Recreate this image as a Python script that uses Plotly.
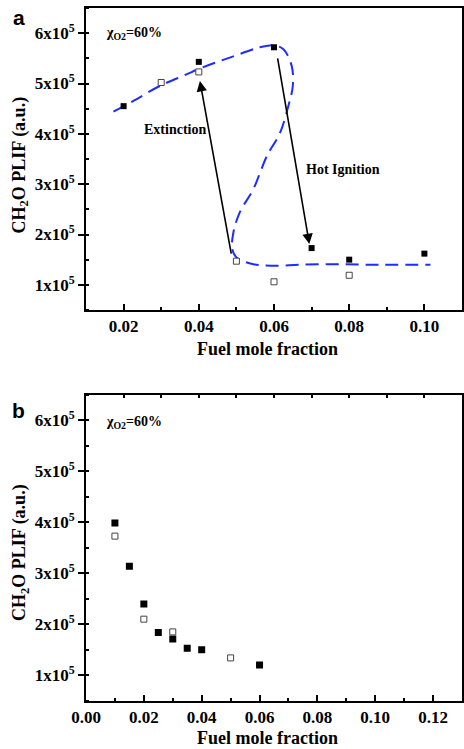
import plotly.graph_objects as go

# ---------------- data: panel a ----------------
a_filled_x = [0.02, 0.04, 0.06, 0.07, 0.08, 0.10]
a_filled_y = [4.55e5, 5.43e5, 5.72e5, 1.73e5, 1.50e5, 1.62e5]
a_open_x = [0.03, 0.04, 0.05, 0.06, 0.08]
a_open_y = [5.02e5, 5.23e5, 1.47e5, 1.06e5, 1.19e5]
a_curve_x = [0.0173, 0.0225, 0.0296, 0.0367, 0.0403, 0.0492, 0.0563, 0.0598, 0.0625,
             0.0647, 0.0650, 0.0638, 0.0616, 0.0581, 0.0563, 0.0545, 0.0509, 0.0492,
             0.0489, 0.0501, 0.0545, 0.0598, 0.0669, 0.0758, 0.0847, 0.1016]
a_curve_y = [4.44e5, 4.65e5, 4.95e5, 5.18e5, 5.30e5, 5.54e5, 5.72e5, 5.76e5, 5.68e5,
             5.35e5, 4.95e5, 4.55e5, 4.02e5, 3.56e5, 3.23e5, 2.90e5, 2.44e5, 2.04e5,
             1.71e5, 1.54e5, 1.41e5, 1.38e5, 1.40e5, 1.41e5, 1.40e5, 1.40e5]
# arrows: (tail_x, tail_y, tip_x, tip_y)
arrow_extinction = [0.0487, 1.59e5, 0.0403, 5.05e5]
arrow_ignition = [0.0609, 5.53e5, 0.0694, 1.81e5]

# ---------------- data: panel b ----------------
b_filled_x = [0.010, 0.015, 0.020, 0.025, 0.030, 0.035, 0.040, 0.060]
b_filled_y = [3.99e5, 3.14e5, 2.40e5, 1.84e5, 1.71e5, 1.53e5, 1.50e5, 1.20e5]
b_open_x = [0.010, 0.020, 0.030, 0.050]
b_open_y = [3.73e5, 2.10e5, 1.85e5, 1.34e5]

y_tickvals = [1e5, 2e5, 3e5, 4e5, 5e5, 6e5]
y_ticktext = ["%dx10<sup>5</sup>" % (v / 1e5) for v in y_tickvals]

W, H = 464, 749
def px_x(p):
    return p / W
def px_y(p):
    return 1 - p / H

SERIF = "Liberation Serif"
BLUE = "#1f2bff"

fig = go.Figure()

# panel a traces
fig.add_trace(go.Scatter(x=a_curve_x, y=a_curve_y, mode="lines",
                         line=dict(color=BLUE, width=2, dash="13px,7px", shape="spline", smoothing=1.0),
                         xaxis="x", yaxis="y", showlegend=False, hoverinfo="skip"))
fig.add_trace(go.Scatter(x=a_filled_x, y=a_filled_y, mode="markers",
                         marker=dict(symbol="square", size=6, color="black"),
                         xaxis="x", yaxis="y", showlegend=False))
fig.add_trace(go.Scatter(x=a_open_x, y=a_open_y, mode="markers",
                         marker=dict(symbol="square", size=6, color="white",
                                     line=dict(color="#444444", width=1)),
                         xaxis="x", yaxis="y", showlegend=False))

# panel b traces
fig.add_trace(go.Scatter(x=b_filled_x, y=b_filled_y, mode="markers",
                         marker=dict(symbol="square", size=7, color="black"),
                         xaxis="x2", yaxis="y2", showlegend=False))
fig.add_trace(go.Scatter(x=b_open_x, y=b_open_y, mode="markers",
                         marker=dict(symbol="square", size=6, color="white",
                                     line=dict(color="#444444", width=1)),
                         xaxis="x2", yaxis="y2", showlegend=False))
# dummies for decorative overlay axes
fig.add_trace(go.Scatter(x=[], y=[], xaxis="x3", yaxis="y2", showlegend=False))
fig.add_trace(go.Scatter(x=[], y=[], xaxis="x2", yaxis="y3", showlegend=False))

tickfont = dict(family=SERIF, size=17, color="black", weight=700)
xa = [px_x(86), px_x(462)]
a_dom = [px_y(310), px_y(8)]
b_dom = [px_y(700.7), px_y(395)]

common_x = dict(showline=True, linewidth=2, linecolor="black", mirror=True, showgrid=False,
                zeroline=False, ticks="inside", ticklen=6, tickwidth=1.5, tickcolor="black",
                tickfont=tickfont, tickformat=".2f", tickmode="linear", automargin=False)
common_y = dict(showline=True, linewidth=2, linecolor="black", mirror=True, showgrid=False,
                zeroline=False, ticks="outside", ticklen=6, tickwidth=1.5, tickcolor="black",
                tickfont=tickfont, tickmode="array", tickvals=y_tickvals, ticktext=y_ticktext,
                range=[0.5e5, 6.5e5], automargin=False,
                minor=dict(tick0=0, dtick=0.5e5, ticks="inside", ticklen=3, tickwidth=1.5,
                           tickcolor="black", showgrid=False))

fig.update_layout(
    width=W, height=H, margin=dict(l=0, r=0, t=0, b=0, autoexpand=False),
    paper_bgcolor="white", plot_bgcolor="white",
    xaxis=dict(domain=xa, anchor="y", range=[0.01, 0.11], tick0=0, dtick=0.02,
               minor=dict(tick0=0, dtick=0.01, ticks="inside", ticklen=3, tickwidth=1.5,
                          tickcolor="black", showgrid=False),
               **common_x),
    yaxis=dict(domain=a_dom, anchor="x", **common_y),
    xaxis2=dict(domain=xa, anchor="y2", range=[0, 0.13], tick0=0, dtick=0.02,
                minor=dict(tick0=0, dtick=0.01, ticks="inside", ticklen=3, tickwidth=1.5,
                           tickcolor="black", showgrid=False),
                **common_x),
    yaxis2=dict(domain=b_dom, anchor="x2", **common_y),
    xaxis3=dict(overlaying="x2", anchor="y2", side="top", range=[0.01, 0.11],
                tickmode="array", tickvals=[0.02, 0.03, 0.04, 0.05, 0.06, 0.07, 0.08, 0.09, 0.10],
                ticks="inside", ticklen=3, tickwidth=1.5, tickcolor="black", automargin=False,
                showticklabels=False, showline=False, showgrid=False, zeroline=False),
    yaxis3=dict(overlaying="y2", anchor="x2", side="right", range=[-0.044, 10.046],
                tickmode="array", tickvals=[1, 2, 3, 4, 5, 6, 7, 8, 9], automargin=False,
                ticks="outside", ticklen=4, tickwidth=1.5, tickcolor="black",
                showticklabels=False, showline=False, showgrid=False, zeroline=False),
)

ann = []
def paper_text(text, cx, cy, font, xanchor="center", angle=0):
    ann.append(dict(text=text, x=px_x(cx), y=px_y(cy), xref="paper", yref="paper",
                    xanchor=xanchor, yanchor="middle", textangle=angle,
                    showarrow=False, font=font))

# panel labels
panfont = dict(family="Liberation Sans", size=21, color="black", weight=700)
paper_text("a", 18.5, 17, panfont)
paper_text("b", 18.5, 410, panfont)
# axis titles
titlefont = dict(family=SERIF, size=18, color="black", weight=700)
for cy in (165.5, 553):
    paper_text("CH<sub>2</sub>O PLIF (a.u.)", 20, cy, titlefont, angle=-90)
for cy in (349, 738):
    paper_text("Fuel mole fraction", 267, cy, titlefont)
# chi label
chifont = dict(family=SERIF, size=14, color="black", weight=700)
for cy in (34, 422):
    paper_text("χ<sub>O2</sub>=60%", 104, cy, chifont, xanchor="left")
# text labels panel a
labfont = dict(family=SERIF, size=14, color="black", weight=700)
paper_text("Extinction", 174.5, 130, labfont)
paper_text("Hot Ignition", 343.3, 169.3, labfont)
# arrows
for arr in (arrow_extinction, arrow_ignition):
    ann.append(dict(text="", x=arr[2], y=arr[3], ax=arr[0], ay=arr[1], xref="x", yref="y",
                    axref="x", ayref="y", showarrow=True, arrowhead=2, arrowsize=1.3,
                    arrowwidth=1.6, arrowcolor="black", standoff=0, startstandoff=0))

fig.update_layout(annotations=ann)
fig.write_html("out.html")
